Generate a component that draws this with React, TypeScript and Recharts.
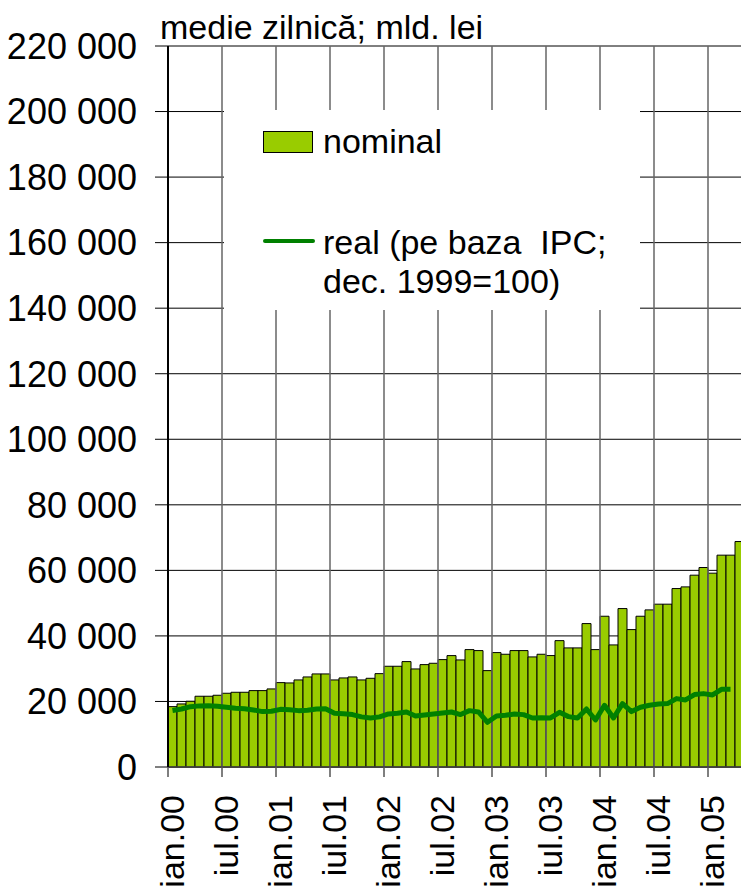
import React from 'react';
import { ComposedChart, Bar, Line, XAxis, YAxis, CartesianGrid, Legend, ReferenceLine } from 'recharts';

const monthNames = ['ian', 'feb', 'mar', 'apr', 'mai', 'iun', 'iul', 'aug', 'sep', 'oct', 'noi', 'dec'];
const years = ['00', '01', '02', '03', '04', '05'];

// ian.00 ... apr.05, lunar
const categories = years.flatMap(y => monthNames.map(m => `${m}.${y}`)).slice(0, 64);

const nominal = [
  18420, 19240, 20060, 21590, 21590, 21890, 22500, 22800, 22800, 23310, 23310, 23820,
  25750, 25650, 26570, 27480, 28400, 28400, 26570, 27180, 27480, 26570, 27070, 28490,
  30740, 30740, 32160, 29920, 31240, 31650, 32770, 33990, 32670, 35820, 35520, 29410,
  34910, 34400, 35520, 35520, 33590, 34400, 34000, 38560, 36340, 36340, 43760, 35820,
  46000, 37250, 48340, 41930, 46000, 47940, 49680, 49680, 54450, 54960, 58530, 60870,
  59140, 64640, 64640, 68800,
];

const real = [
  17250, 17700, 18400, 18650, 18700, 18550, 18200, 17900, 17800, 17400, 16900, 17000,
  17600, 17500, 17200, 17300, 17700, 17800, 16400, 16250, 16000, 15300, 14950, 15300,
  16180, 16390, 16790, 15570, 15880, 16180, 16500, 16790, 16000, 17200, 16790, 13640,
  15570, 15770, 16180, 15980, 14960, 15000, 14960, 16690, 15370, 14960, 17710, 14350,
  18830, 14960, 19340, 16900, 18220, 18830, 19240, 19340, 20870, 20460, 22090, 22390,
  21990, 23710, 23710, null,
];

const yTicks = [0, 20000, 40000, 60000, 80000, 100000, 120000, 140000, 160000, 180000, 200000, 220000];

const data = categories.map((m, i) => ({ m, nominal: nominal[i], real: real[i] }));
const halfYears = categories.filter((_, i) => i % 6 === 0);

const FONT = '"Liberation Sans", Arial, sans-serif';

const fmt = (v: number) => String(v).replace(/\B(?=(\d{3})+(?!\d))/g, ' ');

const MonthTick = (props: any) => {
  const { x, y, payload } = props;
  const off = payload?.offset ?? 0;
  const ty = y + 28;
  return (
    <g>
      <line x1={x - off} x2={x - off} y1={y} y2={y + 10} stroke="#555" strokeWidth={1.5} />
      <text
        x={x}
        y={ty}
        transform={`rotate(-90 ${x} ${ty})`}
        textAnchor="end"
        dy="0.35em"
        fontSize={34}
        fontFamily={FONT}
        fill="#000"
      >
        {payload.value}
      </text>
    </g>
  );
};

const LegendBox = () => (
  <div style={{ position: 'relative', width: 416, height: 200, background: '#fff', fontFamily: FONT, fontSize: 34, color: '#000' }}>
    <div style={{ position: 'absolute', left: 39, top: 21, width: 48, height: 20, background: '#99CC00', border: '1px solid #000' }} />
    <div style={{ position: 'absolute', left: 99, top: 12, lineHeight: '39px', whiteSpace: 'pre' }}>nominal</div>
    <div style={{ position: 'absolute', left: 39, top: 129, width: 52, height: 4, background: '#008000', borderRadius: 2 }} />
    <div style={{ position: 'absolute', left: 99, top: 113, lineHeight: '39px', whiteSpace: 'pre' }}>
      {'real (pe baza  IPC;\ndec. 1999=100)'}
    </div>
  </div>
);

export default function App() {
  return (
    <div style={{ position: 'absolute', left: 0, top: 0, width: 741, height: 887, overflow: 'hidden', background: '#fff' }}>
      <div style={{ position: 'absolute', left: 160, top: 10, fontFamily: FONT, fontSize: 34, lineHeight: '34px', color: '#000', whiteSpace: 'nowrap' }}>
        medie zilnică; mld. lei
      </div>
      <ComposedChart
        width={760}
        height={887}
        data={data}
        margin={{ top: 46, right: 16, bottom: 0, left: 0 }}
        barCategoryGap={0}
        barGap={0}
        style={{ fontFamily: FONT }}
      >
        <CartesianGrid vertical={false} stroke="#000" strokeWidth={1} />
        {halfYears.map(c => (
          <ReferenceLine key={c} x={c} position="start" stroke="#666" strokeWidth={1.5} />
        ))}
        <XAxis
          dataKey="m"
          interval={5}
          tick={<MonthTick />}
          tickLine={false}
          tickSize={0}
          tickMargin={0}
          height={120}
          axisLine={{ stroke: '#444', strokeWidth: 1.5 }}
        />
        <YAxis
          domain={[0, 220000]}
          ticks={yTicks}
          tickFormatter={fmt}
          width={168}
          tickSize={13}
          tickMargin={18}
          tick={{ fontSize: 36, fill: '#000', fontFamily: FONT }}
          tickLine={{ stroke: '#000' }}
          axisLine={{ stroke: '#000', strokeWidth: 2 }}
          interval={0}
        />
        <Bar dataKey="nominal" fill="#99CC00" stroke="#000" strokeWidth={1} isAnimationActive={false} />
        <Line
          dataKey="real"
          type="linear"
          stroke="#008000"
          strokeWidth={5}
          dot={false}
          strokeLinejoin="round"
          isAnimationActive={false}
        />
        <Legend
          layout="vertical"
          align="center"
          verticalAlign="middle"
          wrapperStyle={{ left: 224, top: 110, width: 416, height: 200 }}
          content={() => <LegendBox />}
        />
      </ComposedChart>
    </div>
  );
}
